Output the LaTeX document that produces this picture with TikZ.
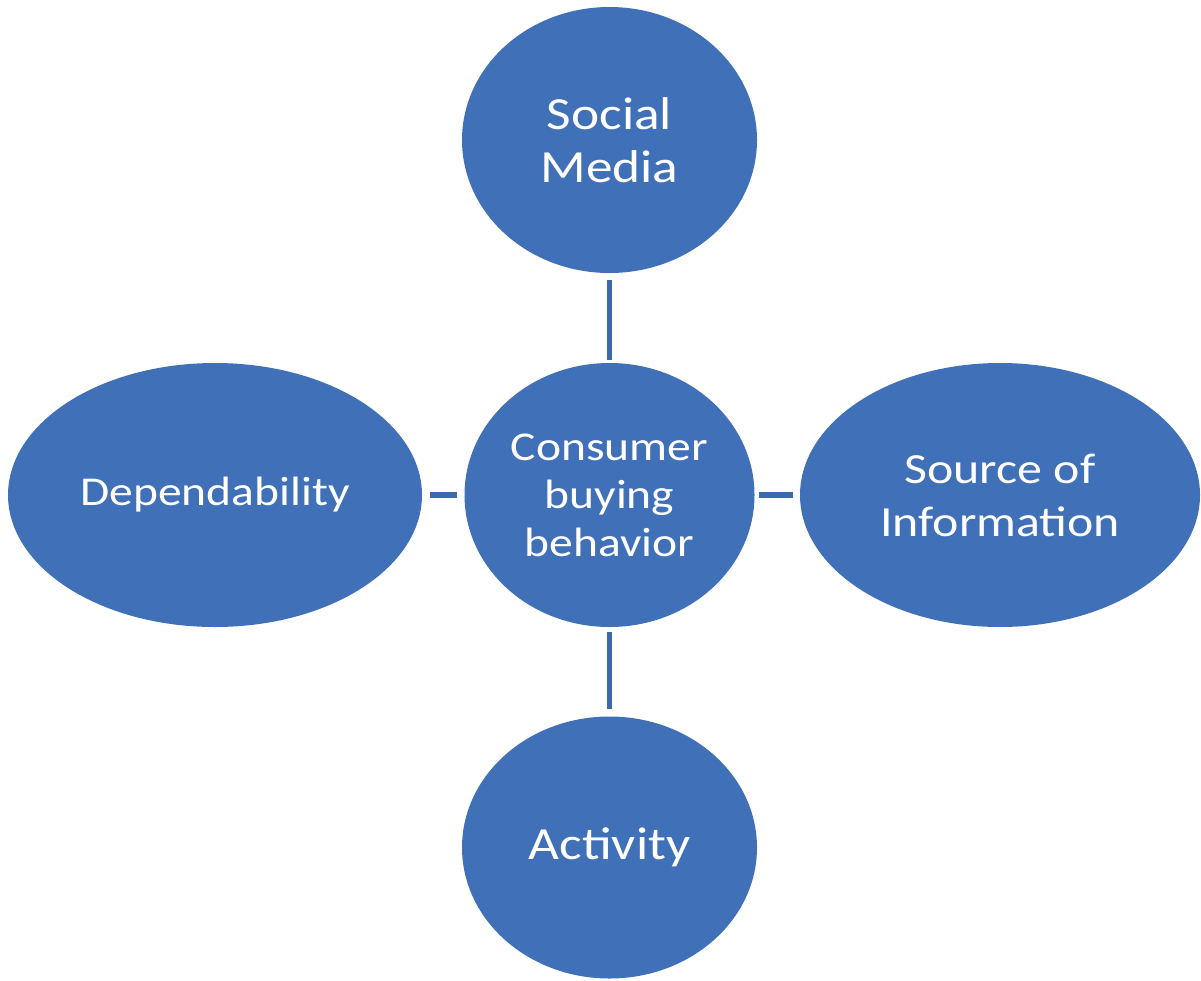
\documentclass[tikz,border=0pt]{standalone}
\usepackage{fontspec}
\setmainfont[FakeStretch=1.16]{Carlito}
\usetikzlibrary{shapes.geometric}
\definecolor{bubble}{HTML}{4070B8}
\definecolor{link}{HTML}{3C68AE}
\begin{document}
\begin{tikzpicture}[x=1pt,y=-1pt,
  bubblenode/.style={ellipse, fill=bubble, draw=none, inner sep=0pt,
    text=white, align=center, font=\fontsize{41}{48}\selectfont},
  bigtext/.style={font=\fontsize{46}{53}\selectfont},
  midtext/.style={font=\fontsize{43}{53}\selectfont},
  linkline/.style={draw=link, line width=5.5pt}]
  \useasboundingbox (0,0) rectangle (1201,980);
  % the five topic bubbles
  \node[bubblenode, bigtext, minimum width=295pt, minimum height=266pt] (sm) at (609.5,140) {Social\\Media};
  \node[bubblenode, minimum width=290pt, minimum height=264pt] (cb) at (609.5,495) {Consumer\\buying\\behavior};
  \node[bubblenode, minimum width=414pt, minimum height=264pt] (dep) at (215,495) {Dependability};
  \node[bubblenode, midtext, minimum width=400pt, minimum height=264pt] (src) at (1000,495) {Source of\\Information};
  \node[bubblenode, bigtext, minimum width=295pt, minimum height=262pt] (act) at (609.5,847.5) {Activity};
  % short links to the central bubble
  \draw[linkline, shorten <=7pt, shorten >=3pt] (sm.south) -- (cb.north);
  \draw[linkline, shorten <=5pt, shorten >=7pt] (cb.south) -- (act.north);
  \draw[linkline, shorten <=8pt, shorten >=7pt] (dep.east) -- (cb.west);
  \draw[linkline, shorten <=4pt, shorten >=7pt] (cb.east) -- (src.west);
\end{tikzpicture}
\end{document}
